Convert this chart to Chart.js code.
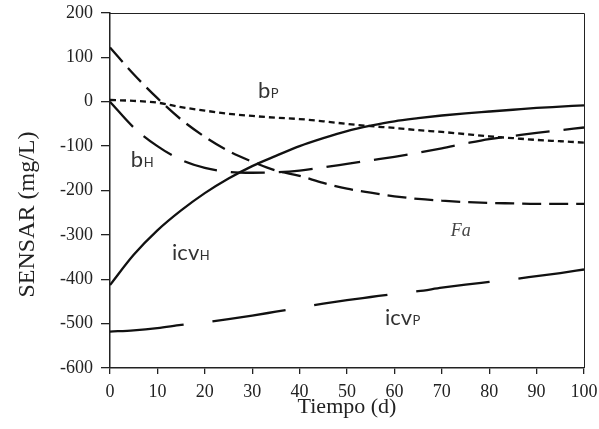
<!DOCTYPE html>
<html>
<head>
<meta charset="utf-8">
<script src="https://cdn.jsdelivr.net/npm/chart.js@4.4.1/dist/chart.umd.min.js"></script>
<style>
  html, body { margin: 0; padding: 0; background: #fff; }
  #wrap { width: 599px; height: 429px; position: relative; }
</style>
</head>
<body>
<div id="wrap"><canvas id="c" width="599" height="429"></canvas></div>
<script>
// ---- data ----
const days = [0,5,10,15,20,25,30,35,40,45,50,55,60,65,70,75,80,85,90,95,100];
const icvH = [-413,-345,-290,-245,-206,-173,-145,-122,-100,-82,-66,-54,-44,-37,-31,-26,-22,-18,-14,-11,-8];
const bH   = [0,-58,-100,-131,-149,-158,-160,-159,-155,-148,-140,-132,-124,-115,-105,-94,-84,-77,-70,-64,-58];
const Fa   = [122,62,8,-40,-79,-111,-135,-155,-167,-183,-196,-205,-213,-219,-223,-226,-228,-229,-230,-230,-230];
const bP   = [4,2,-2,-12,-20,-27,-32,-36,-39,-44,-50,-55,-59,-64,-68,-73,-78,-82,-86,-89,-92];
const icvP = [-518,-515,-510,-503,-497,-490,-482,-473,-464,-455,-447,-440,-433,-427,-419,-412,-406,-400,-393,-386,-378];
const xTicks = [0,10,20,30,40,50,60,70,80,90,100];
const yTicks = [200,100,0,-100,-200,-300,-400,-500,-600];
const xTitle = 'Tiempo (d)';
const yTitle = 'SENSAR (mg/L)';
// curve labels: main text, small subscript-like text, anchor in data units
const curveLabels = [
  { main: 'b',   sub: 'P', x: 31.2, y: 8.5 },
  { main: 'b',   sub: 'H', x: 4.4,  y: -147 },
  { main: 'icv', sub: 'H', x: 13.1, y: -357 },
  { main: 'icv', sub: 'P', x: 58.0, y: -503 }
];
const faLabel = { text: 'Fa', x: 71.9, y: -302 };

const pts = arr => days.map((d, i) => ({ x: d, y: arr[i] }));

function ds(label, arr, dash) {
  return {
    label, data: pts(arr), borderColor: '#111', backgroundColor: '#111',
    borderWidth: 2.3, borderDash: dash, pointRadius: 0, fill: false,
    cubicInterpolationMode: 'monotone', borderCapStyle: 'butt'
  };
}

const textPlugin = {
  id: 'texts',
  afterDraw(chart) {
    const { ctx, chartArea: a, scales: { x, y } } = chart;
    ctx.save();
    // frame top/right
    ctx.strokeStyle = '#222';
    ctx.lineWidth = 1;
    ctx.beginPath();
    ctx.moveTo(a.left, a.top + 0.5); ctx.lineTo(a.right + 0.5, a.top + 0.5); ctx.lineTo(a.right + 0.5, a.bottom);
    ctx.stroke();
    // curve labels
    ctx.fillStyle = '#333';
    ctx.textBaseline = 'alphabetic';
    ctx.textAlign = 'left';
    curveLabels.forEach(l => {
      const px = x.getPixelForValue(l.x), py = y.getPixelForValue(l.y);
      ctx.font = '22px Lato';
      ctx.fillText(l.main, px, py);
      const w = ctx.measureText(l.main).width;
      ctx.font = '13px Lato';
      ctx.fillText(l.sub, px + w + 0.5, py);
    });
    ctx.fillStyle = '#444';
    ctx.font = 'italic 18px "Liberation Serif"';
    ctx.fillText(faLabel.text, x.getPixelForValue(faLabel.x), y.getPixelForValue(faLabel.y));
    // axis titles
    ctx.fillStyle = '#222';
    ctx.font = '22px "Liberation Serif"';
    ctx.textAlign = 'center';
    ctx.fillText(xTitle, (a.left + a.right) / 2, 413);
    ctx.translate(34, 214.5);
    ctx.rotate(-Math.PI / 2);
    ctx.font = '24px "Liberation Serif"';
    ctx.fillText(yTitle, 0, 0);
    ctx.restore();
  }
};

new Chart(document.getElementById('c'), {
  type: 'line',
  data: {
    datasets: [
      ds('icvH', icvH, []),
      ds('bH', bH, [34, 14]),
      ds('Fa', Fa, [19, 8]),
      ds('bP', bP, [6, 4]),
      ds('icvP', icvP, [74, 29])
    ]
  },
  options: {
    responsive: false,
    animation: false,
    devicePixelRatio: 1,
    layout: { padding: { top: 13, right: 15, left: 0, bottom: 0 } },
    plugins: { legend: { display: false }, tooltip: { enabled: false } },
    scales: {
      x: {
        type: 'linear', min: 0, max: 100,
        afterBuildTicks: s => { s.ticks = xTicks.map(v => ({ value: v })); },
        afterFit: s => { s.height = 61; s.paddingLeft = 0; s.paddingRight = 0; },
        ticks: { font: { family: 'Liberation Serif', size: 18 }, color: '#222', padding: 7, maxRotation: 0 },
        grid: { drawOnChartArea: false, tickLength: 6, color: '#222', lineWidth: 1.3 },
        border: { color: '#222', width: 1.5 }
      },
      y: {
        type: 'linear', min: -600, max: 200,
        afterBuildTicks: s => { s.ticks = yTicks.map(v => ({ value: v })); },
        afterFit: s => { s.width = 110; s.paddingTop = 0; s.paddingBottom = 0; },
        ticks: { font: { family: 'Liberation Serif', size: 18 }, color: '#222', padding: 8 },
        grid: { drawOnChartArea: false, tickLength: 9, color: '#222', lineWidth: 1.3 },
        border: { color: '#222', width: 1.5 }
      }
    }
  },
  plugins: [textPlugin]
});
</script>
</body>
</html>
